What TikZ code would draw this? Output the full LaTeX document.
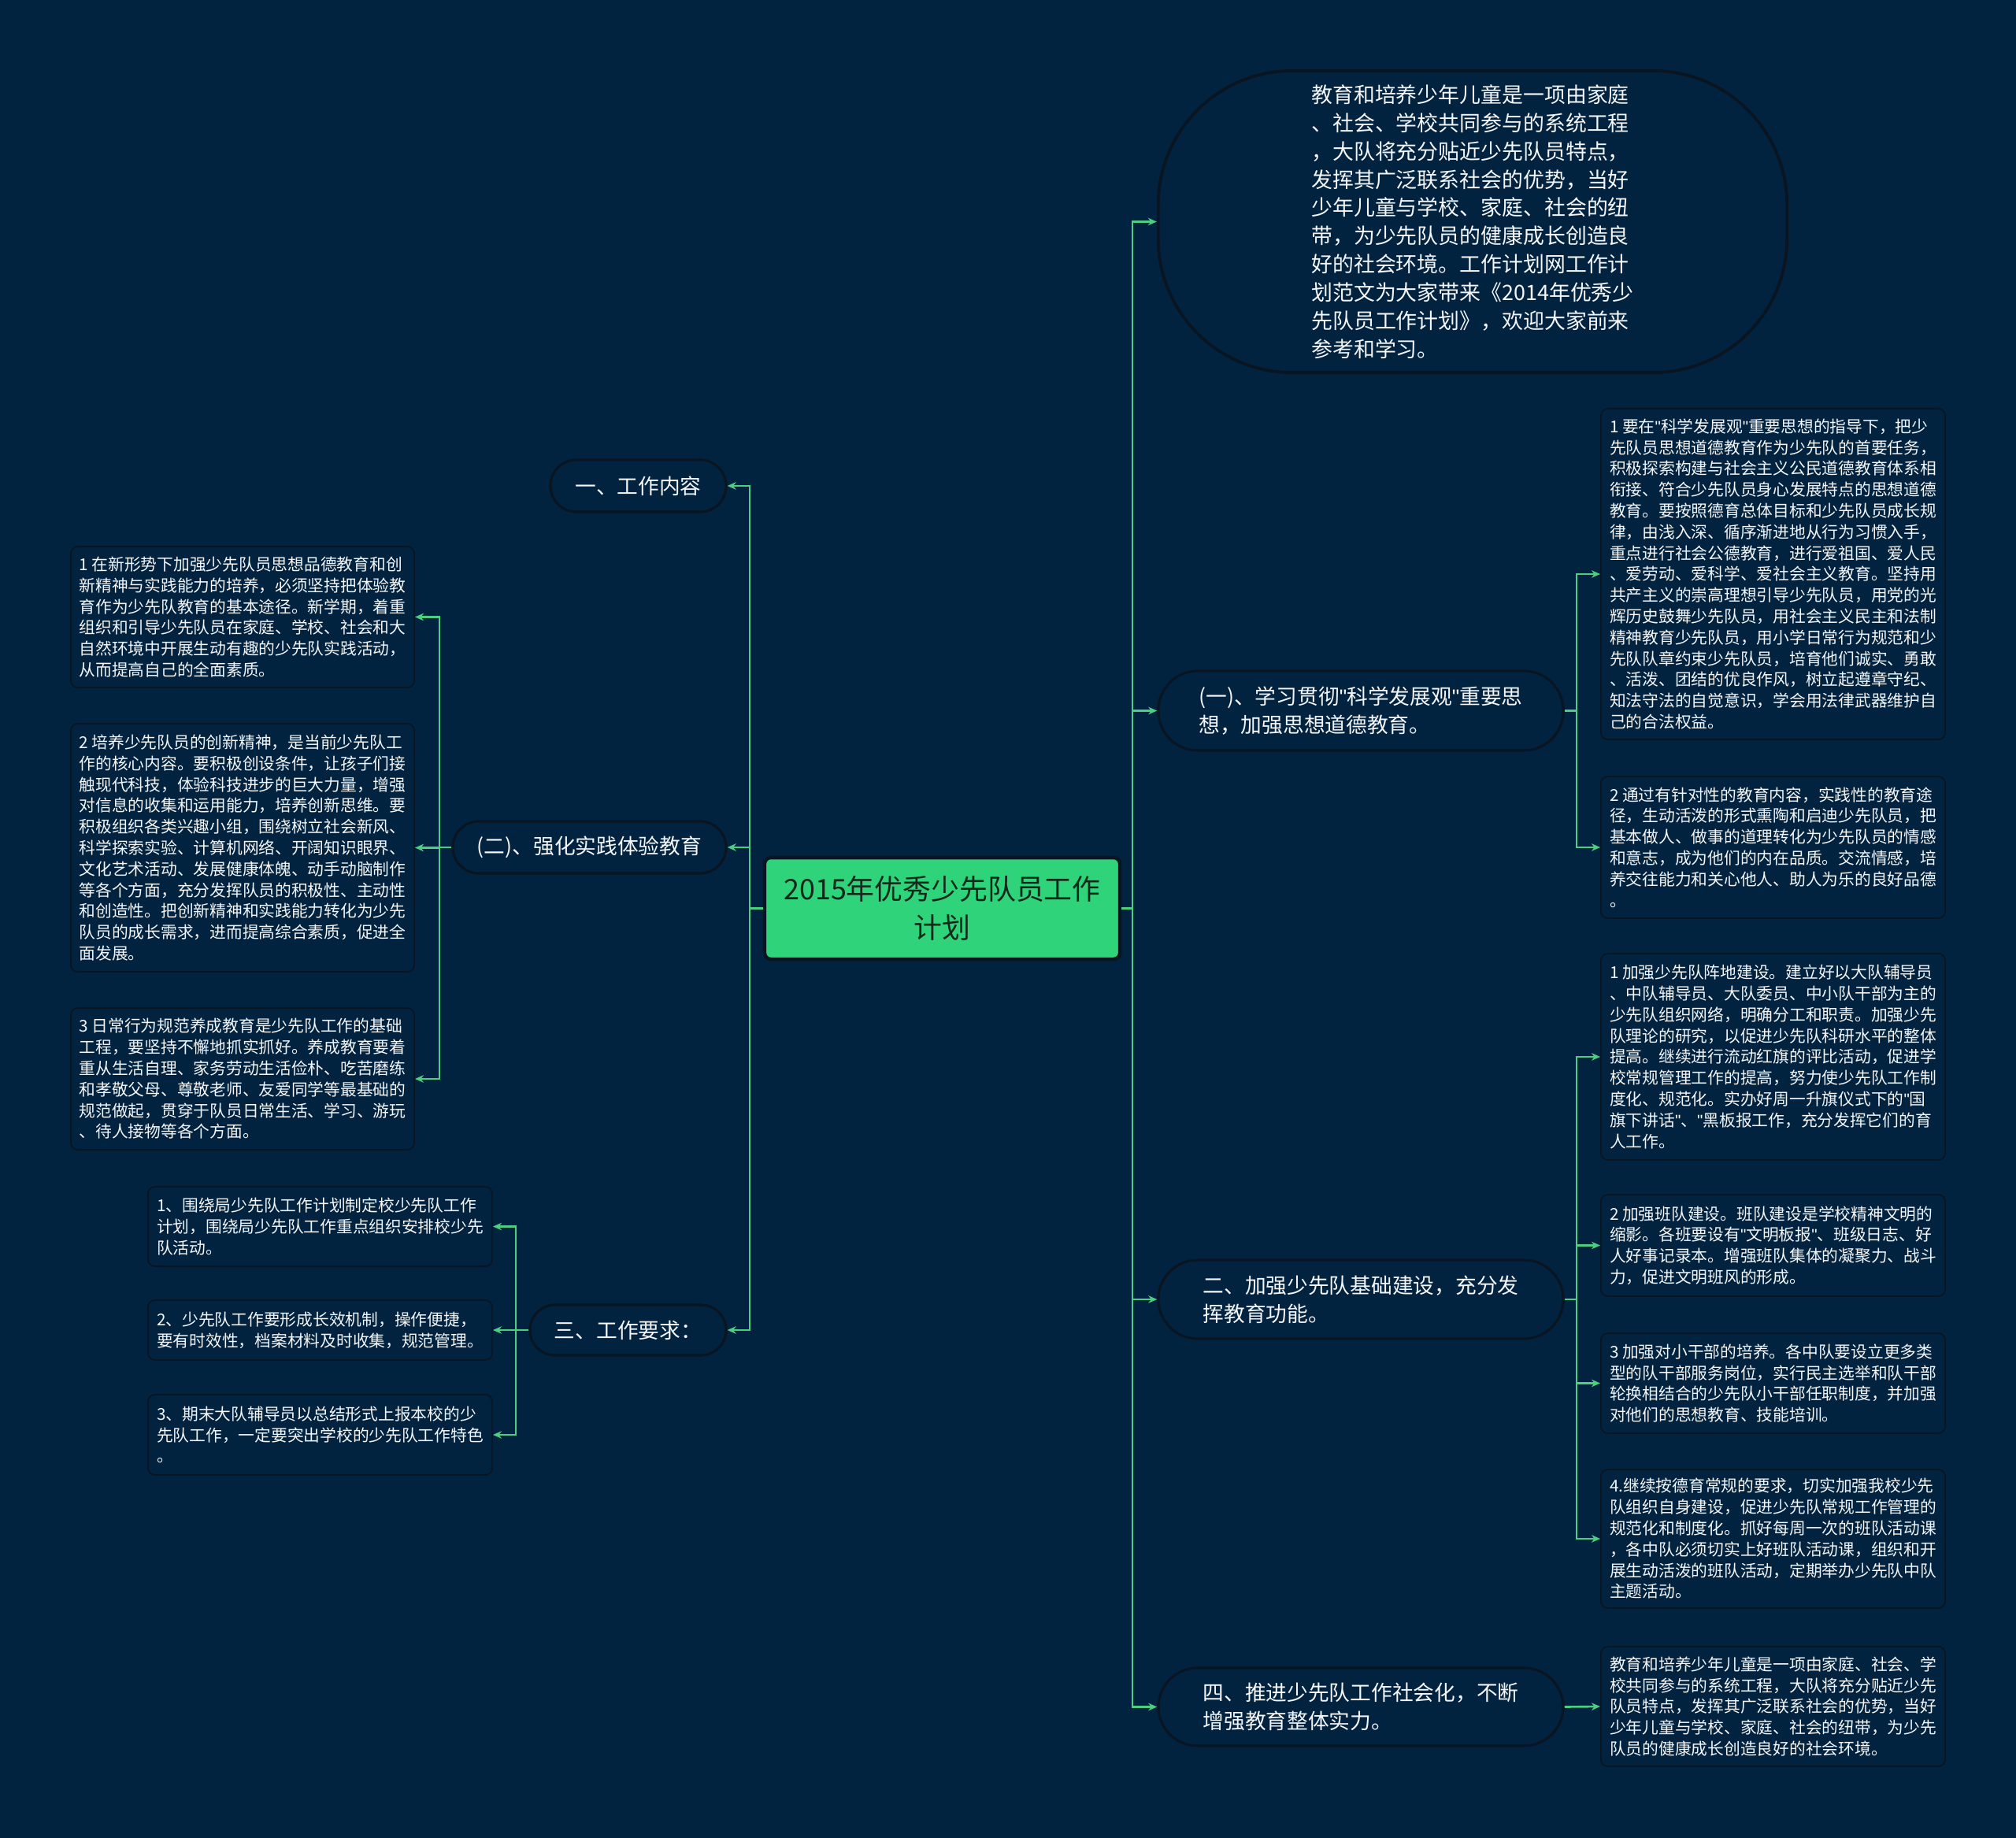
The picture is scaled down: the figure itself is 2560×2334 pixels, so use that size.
\documentclass[tikz,border=0pt]{standalone}
\usepackage{fontspec}
\setmainfont{Noto Sans CJK SC}
\newfontfamily\qtfont{Liberation Sans}
\newcommand{\qt}{{\qtfont\symbol{34}}}
\usetikzlibrary{arrows.meta}
\definecolor{bg}{HTML}{012340}
\definecolor{edgedark}{HTML}{0A1522}
\definecolor{linegreen}{HTML}{4CCF80}
\definecolor{rootgreen}{HTML}{2FD37A}
\definecolor{roottext}{HTML}{10291B}
\definecolor{txt}{HTML}{F4F6F8}
\tikzset{
  leaf/.style={draw=edgedark, line width=0.5pt, fill=bg, rounded corners=0.09cm,
    text=txt, align=left, font=\fontsize{5.9pt}{7.62pt}\selectfont,
    minimum width=4.37cm, inner xsep=0pt, inner ysep=0pt},
  branch/.style={draw=edgedark, line width=0.9pt, fill=bg,
    text=txt, align=left, font=\fontsize{7.6pt}{10.2pt}\selectfont, inner sep=0pt},
  rootbox/.style={draw=edgedark, line width=1.3pt, fill=rootgreen, rounded corners=0.08cm,
    text=roottext, align=center, font=\fontsize{10.2pt}{14pt}\selectfont, inner sep=0pt},
  conn/.style={draw=linegreen, line width=0.75pt, -{Stealth[length=0.11cm,width=0.095cm]}},
}
\begin{document}
\begin{tikzpicture}[x=0.01cm,y=-0.01cm]
\fill[bg] (0,0) rectangle (2560,2334);
\useasboundingbox (0,0) rectangle (2560,2334);

% root
\node[rootbox, minimum width=4.51cm, minimum height=1.29cm] (root) at (1196.5,1153.5)
  {2015年优秀少先队员工作\\计划};

% right side
\node[branch, rounded corners=1.7cm, line width=1.1pt, minimum width=7.98cm, minimum height=3.83cm,
  font=\fontsize{7.65pt}{10.2pt}\selectfont] (intro) at (1870,281.5)
  {教育和培养少年儿童是一项由家庭\\、社会、学校共同参与的系统工程\\，大队将充分贴近少先队员特点，\\发挥其广泛联系社会的优势，当好\\少年儿童与学校、家庭、社会的纽\\带，为少先队员的健康成长创造良\\好的社会环境。工作计划网工作计\\划范文为大家带来《2014年优秀少\\先队员工作计划》，欢迎大家前来\\参考和学习。};

\node[branch, rounded corners=0.5cm, minimum width=5.14cm, minimum height=1.01cm] (b1) at (1728,902.5)
  {(一)、学习贯彻\qt 科学发展观\qt 重要思\\想，加强思想道德教育。};
\node[branch, rounded corners=0.5cm, minimum width=5.14cm, minimum height=1.0cm] (b2) at (1728,1650)
  {二、加强少先队基础建设，充分发\\挥教育功能。};
\node[branch, rounded corners=0.5cm, minimum width=5.14cm, minimum height=0.99cm] (b4) at (1728,2167.5)
  {四、推进少先队工作社会化，不断\\增强教育整体实力。};

\node[leaf, minimum height=4.2cm] (r1a) at (2251.5,729)
  {1 要在\qt 科学发展观\qt 重要思想的指导下，把少\\先队员思想道德教育作为少先队的首要任务，\\积极探索构建与社会主义公民道德教育体系相\\衔接、符合少先队员身心发展特点的思想道德\\教育。要按照德育总体目标和少先队员成长规\\律，由浅入深、循序渐进地从行为习惯入手，\\重点进行社会公德教育，进行爱祖国、爱人民\\、爱劳动、爱科学、爱社会主义教育。坚持用\\共产主义的崇高理想引导少先队员，用党的光\\辉历史鼓舞少先队员，用社会主义民主和法制\\精神教育少先队员，用小学日常行为规范和少\\先队队章约束少先队员，培育他们诚实、勇敢\\、活泼、团结的优良作风，树立起遵章守纪、\\知法守法的自觉意识，学会用法律武器维护自\\己的合法权益。};
\node[leaf, minimum height=1.8cm] (r1b) at (2251.5,1076)
  {2 通过有针对性的教育内容，实践性的教育途\\径，生动活泼的形式熏陶和启迪少先队员，把\\基本做人、做事的道理转化为少先队员的情感\\和意志，成为他们的内在品质。交流情感，培\\养交往能力和关心他人、助人为乐的良好品德\\。};

\node[leaf, minimum height=2.62cm] (r2a) at (2251.5,1342)
  {1 加强少先队阵地建设。建立好以大队辅导员\\、中队辅导员、大队委员、中小队干部为主的\\少先队组织网络，明确分工和职责。加强少先\\队理论的研究，以促进少先队科研水平的整体\\提高。继续进行流动红旗的评比活动，促进学\\校常规管理工作的提高，努力使少先队工作制\\度化、规范化。实办好周一升旗仪式下的\qt 国\\旗下讲话\qt 、\qt 黑板报工作，充分发挥它们的育\\人工作。};
\node[leaf, minimum height=1.29cm] (r2b) at (2251.5,1581.5)
  {2 加强班队建设。班队建设是学校精神文明的\\缩影。各班要设有\qt 文明板报\qt 、班级日志、好\\人好事记录本。增强班队集体的凝聚力、战斗\\力，促进文明班风的形成。};
\node[leaf, minimum height=1.27cm] (r2c) at (2251.5,1756.5)
  {3 加强对小干部的培养。各中队要设立更多类\\型的队干部服务岗位，实行民主选举和队干部\\轮换相结合的少先队小干部任职制度，并加强\\对他们的思想教育、技能培训。};
\node[leaf, minimum height=1.76cm] (r2d) at (2251.5,1954)
  {4.继续按德育常规的要求，切实加强我校少先\\队组织自身建设，促进少先队常规工作管理的\\规范化和制度化。抓好每周一次的班队活动课\\，各中队必须切实上好班队活动课，组织和开\\展生动活泼的班队活动，定期举办少先队中队\\主题活动。};
\node[leaf, minimum height=1.52cm] (r4a) at (2251.5,2167)
  {教育和培养少年儿童是一项由家庭、社会、学\\校共同参与的系统工程，大队将充分贴近少先\\队员特点，发挥其广泛联系社会的优势，当好\\少年儿童与学校、家庭、社会的纽带，为少先\\队员的健康成长创造良好的社会环境。};

% left side
\node[branch, rounded corners=0.33cm, minimum width=2.23cm, minimum height=0.66cm] (l1) at (810.5,617)
  {一、工作内容};
\node[branch, rounded corners=0.33cm, minimum width=3.47cm, minimum height=0.66cm] (l2) at (748.5,1076)
  {(二)、强化实践体验教育};
\node[branch, rounded corners=0.32cm, minimum width=2.49cm, minimum height=0.64cm] (l3) at (797.5,1689)
  {三、工作要求：};

\node[leaf, minimum width=4.36cm, minimum height=1.79cm] (l2a) at (308,783.5)
  {1 在新形势下加强少先队员思想品德教育和创\\新精神与实践能力的培养，必须坚持把体验教\\育作为少先队教育的基本途径。新学期，着重\\组织和引导少先队员在家庭、学校、社会和大\\自然环境中开展生动有趣的少先队实践活动，\\从而提高自己的全面素质。};
\node[leaf, minimum width=4.36cm, minimum height=3.15cm] (l2b) at (308,1076.5)
  {2 培养少先队员的创新精神，是当前少先队工\\作的核心内容。要积极创设条件，让孩子们接\\触现代科技，体验科技进步的巨大力量，增强\\对信息的收集和运用能力，培养创新思维。要\\积极组织各类兴趣小组，围绕树立社会新风、\\科学探索实验、计算机网络、开阔知识眼界、\\文化艺术活动、发展健康体魄、动手动脑制作\\等各个方面，充分发挥队员的积极性、主动性\\和创造性。把创新精神和实践能力转化为少先\\队员的成长需求，进而提高综合素质，促进全\\面发展。};
\node[leaf, minimum width=4.36cm, minimum height=1.8cm] (l2c) at (308,1370)
  {3 日常行为规范养成教育是少先队工作的基础\\工程，要坚持不懈地抓实抓好。养成教育要着\\重从生活自理、家务劳动生活俭朴、吃苦磨练\\和孝敬父母、尊敬老师、友爱同学等最基础的\\规范做起，贯穿于队员日常生活、学习、游玩\\、待人接物等各个方面。};

\node[leaf, minimum height=1.01cm] (l3a) at (406.5,1557.5)
  {1、围绕局少先队工作计划制定校少先队工作\\计划，围绕局少先队工作重点组织安排校少先\\队活动。};
\node[leaf, minimum height=0.76cm] (l3b) at (406.5,1689)
  {2、少先队工作要形成长效机制，操作便捷，\\要有时效性，档案材料及时收集，规范管理。};
\node[leaf, minimum height=1.02cm] (l3c) at (406.5,1822)
  {3、期末大队辅导员以总结形式上报本校的少\\先队工作，一定要突出学校的少先队工作特色\\。};

% connectors
\coordinate (rt) at (1438,1153.5);
\coordinate (lt) at (952,1153.5);
\draw[conn] (root.east) -- (rt) |- (intro.west);
\draw[conn] (root.east) -- (rt) |- (b1.west);
\draw[conn] (root.east) -- (rt) |- (b2.west);
\draw[conn] (root.east) -- (rt) |- (b4.west);
\draw[conn] (root.west) -- (lt) |- (l1.east);
\draw[conn] (root.west) -- (lt) |- (l2.east);
\draw[conn] (root.west) -- (lt) |- (l3.east);

\coordinate (b1t) at (2002,902.5);
\draw[conn] (b1.east) -- (b1t) |- (r1a.west);
\draw[conn] (b1.east) -- (b1t) |- (r1b.west);
\coordinate (b2t) at (2002,1650);
\draw[conn] (b2.east) -- (b2t) |- (r2a.west);
\draw[conn] (b2.east) -- (b2t) |- (r2b.west);
\draw[conn] (b2.east) -- (b2t) |- (r2c.west);
\draw[conn] (b2.east) -- (b2t) |- (r2d.west);
\draw[conn] (b4.east) -- (r4a.west);

\coordinate (l2t) at (558,1076);
\draw[conn] (l2.west) -- (l2t) |- (l2a.east);
\draw[conn] (l2.west) -- (l2t) |- (l2b.east);
\draw[conn] (l2.west) -- (l2t) |- (l2c.east);
\coordinate (l3t) at (655,1689);
\draw[conn] (l3.west) -- (l3t) |- (l3a.east);
\draw[conn] (l3.west) -- (l3t) |- (l3b.east);
\draw[conn] (l3.west) -- (l3t) |- (l3c.east);
\end{tikzpicture}
\end{document}
